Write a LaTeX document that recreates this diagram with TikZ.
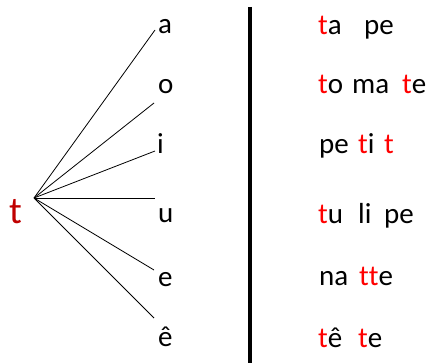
\documentclass[tikz,border=0pt]{standalone}
\usepackage{fontspec}
\setmainfont{Carlito}
\definecolor{darkred}{RGB}{192,0,0}
\definecolor{tred}{RGB}{255,0,0}
\newcommand{\rt}{\textcolor{tred}{t}}
\begin{document}
\begin{tikzpicture}[x=1pt,y=-1pt,
  txt/.style={inner sep=0pt,anchor=base west,font=\fontsize{29}{29}\selectfont},
  fan/.style={line width=0.8pt},
  bar/.style={line width=4pt}]
\useasboundingbox (0,0) rectangle (430,363);
% left letter t
\node[inner sep=0pt,anchor=base west,text=darkred,font=\fontsize{38}{38}\selectfont] (T) at (9,223) {t};
\coordinate (hub) at (34,198);
% vowels
\node[txt] (va) at (158,34) {a};
\node[txt] (vo) at (158,94) {o};
\node[txt] (vi) at (157,154) {i};
\node[txt] (vu) at (158,222) {u};
\node[txt] (ve) at (158,286) {e};
\node[txt] (vee) at (158,346) {ê};
\coordinate (ea) at (155,30);
\coordinate (eo) at (154,103);
\coordinate (ei) at (155,151);
\coordinate (eu) at (155,198);
\coordinate (ee) at (154,270);
\coordinate (eee) at (154,318);
\foreach \c in {ea,eo,ei,eu,ee,eee} \draw[fan] (hub) -- (\c);
% divider
\coordinate (bartop) at (250,7);
\coordinate (barbot) at (250,363);
\draw[bar] (bartop) -- (barbot);
% words
\node[txt] (w1a) at (318,35) {\rt a};
\node[txt] (w1b) at (364,35) {pe};
\node[txt] (w2a) at (318,94) {\rt o};
\node[txt] (w2b) at (352,94) {ma};
\node[txt] (w2c) at (402,94) {\rt e};
\node[txt] (w3a) at (319,154) {pe};
\node[txt] (w3b) at (358,154) {\rt i};
\node[txt] (w3c) at (384,154) {\rt};
\node[txt] (w4a) at (318,223) {\rt u};
\node[txt] (w4b) at (358,223) {li};
\node[txt] (w4c) at (384,223) {pe};
\node[txt] (w5a) at (319,285) {na};
\node[txt] (w5b) at (359,285) {\rt\rt e};
\node[txt] (w6a) at (318,347) {\rt ê};
\node[txt] (w6b) at (358,347) {\rt e};
\end{tikzpicture}
\end{document}
